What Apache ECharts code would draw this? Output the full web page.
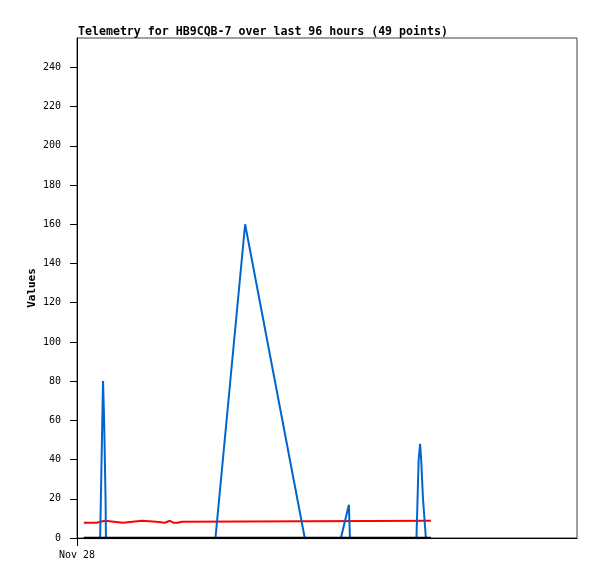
<!DOCTYPE html>
<html>
<head>
<meta charset="utf-8">
<script src="https://cdn.jsdelivr.net/npm/echarts@6/dist/echarts.min.js"></script>
<style>
html,body{margin:0;padding:0;background:#fff;}
#chart{width:597px;height:579px;}
</style>
</head>
<body>
<div id="chart"></div>
<script>
// hours since start of axis (Nov 28)
var redHours   = [1.9, 5.4, 5.6, 7.7, 7.9, 12.7, 12.9, 18.0, 18.2, 21.9, 22.1, 24.3, 24.6, 25.7, 25.9, 26.6, 27.9, 28.1, 29.0, 29.2, 97.9];
var redValues  = [7.8, 7.8, 8.8, 8.8, 7.8, 7.8, 8.8, 8.8, 8.3, 8.3, 7.8, 7.8, 8.8, 8.8, 8.3, 7.8, 7.8, 8.3, 8.3, 8.8, 8.8];
var blueHours  = [1.9, 6.4, 6.6, 6.8, 7.2, 7.5, 7.9, 8.0, 38.3, 46.5, 63.0, 73.0, 75.2, 75.5, 93.9, 94.2, 94.5, 94.9, 95.2, 95.7, 96.5, 97.9];
var blueValues = [0, 0, 20, 40, 80, 60, 20, 0, 0, 160, 0, 0, 17, 0, 0, 20, 40, 48, 40, 20, 0, 0];
var blackHours = [1.9, 97.9];
var blackValues = [0, 0];
var yTicks = [0, 20, 40, 60, 80, 100, 120, 140, 160, 180, 200, 220, 240];
var xTickLabels = ['Nov 28'];

function pairs(xs, ys){ return xs.map(function(x,i){ return [x, ys[i]]; }); }

var font = 'DejaVu Sans Mono';
var chart = echarts.init(document.getElementById('chart'), null, {renderer:'canvas'});
chart.setOption({
  animation:false,
  backgroundColor:'#fff',
  title:{
    text:'Telemetry for HB9CQB-7 over last 96 hours (49 points)',
    left:73, top:21,
    textStyle:{fontFamily:font, fontWeight:'bold', fontSize:11.6, color:'#000'}
  },
  grid:{left:77, top:38, right:20, bottom:41, show:true, borderColor:'#404040', borderWidth:1, backgroundColor:'transparent'},
  xAxis:{
    type:'value', min:0, max:138.3,
    axisLine:{show:true, onZero:false, lineStyle:{color:'#000', width:1}},
    axisTick:{show:true, length:8, customValues:[0], lineStyle:{color:'#000'}},
    axisLabel:{customValues:[0], margin:12, formatter:function(){return xTickLabels[0];}, fontFamily:font, fontSize:10, color:'#000'},
    splitLine:{show:false}
  },
  yAxis:{
    type:'value', min:0, max:255,
    name:'Values', nameLocation:'middle', nameGap:39, nameMoveOverlap:false,
    nameTextStyle:{fontFamily:font, fontWeight:'bold', fontSize:11, color:'#000'},
    axisLine:{show:true, lineStyle:{color:'#000', width:1}},
    axisTick:{show:true, length:7, customValues:yTicks, lineStyle:{color:'#000'}},
    axisLabel:{customValues:yTicks, margin:16, fontFamily:font, fontSize:10, color:'#000'},
    splitLine:{show:false}
  },
  series:[
    {type:'line', data:pairs(redHours, redValues), showSymbol:false, symbol:'none', lineStyle:{color:'#ff0000', width:2}, z:2},
    {type:'line', data:pairs(blueHours, blueValues), showSymbol:false, symbol:'none', lineStyle:{color:'#0066cc', width:2}, z:3},
    {type:'line', data:pairs(blackHours, blackValues), showSymbol:false, symbol:'none', lineStyle:{color:'#000000', width:2.5}, z:4}
  ]
});
</script>
</body>
</html>
